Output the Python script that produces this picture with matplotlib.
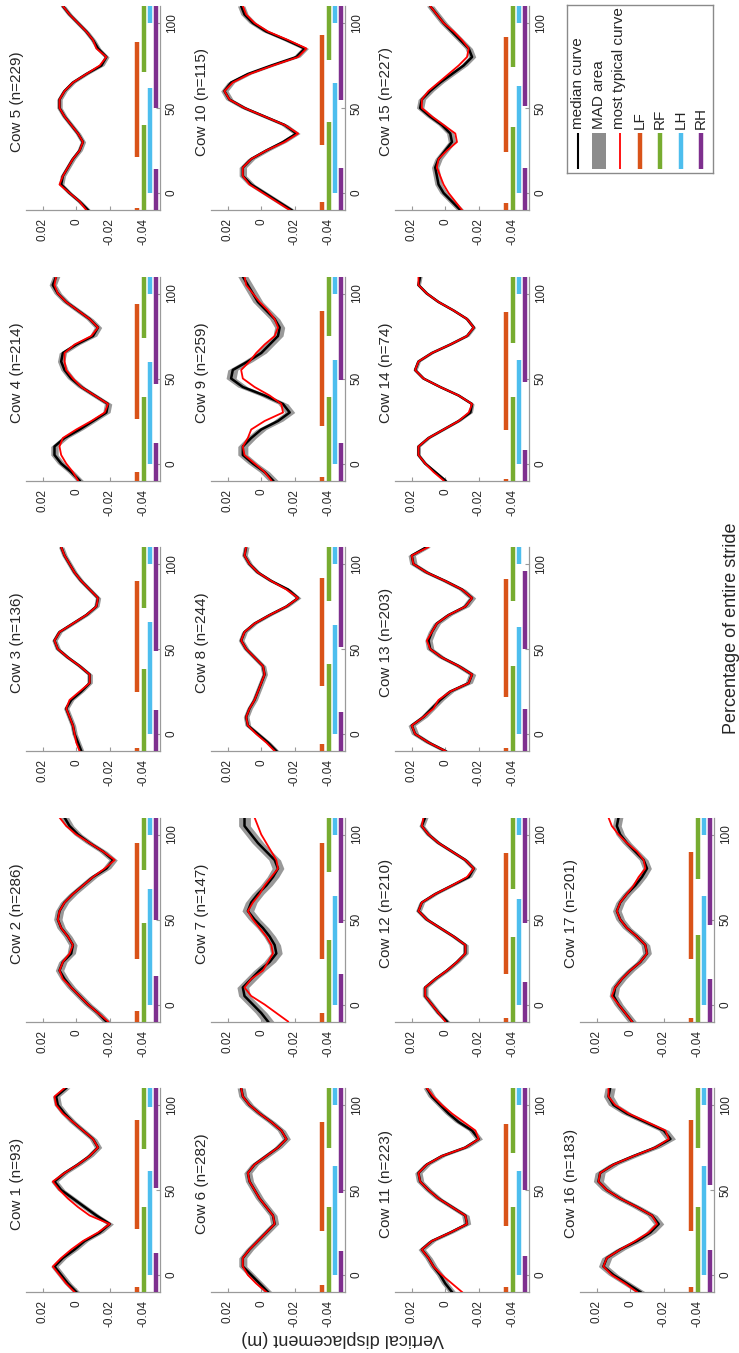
import matplotlib
matplotlib.use("Agg")
import matplotlib.pyplot as plt
from matplotlib.patches import Rectangle

plt.rcParams['font.family'] = ['Liberation Sans', 'DejaVu Sans']

# ---------------- data ----------------
pct = [-10, -5, 0, 5, 10, 15, 20, 25, 30, 35, 40, 45, 50, 55, 60, 65, 70, 75, 80, 85, 90, 95, 100, 105, 110]

n_strides = [93, 286, 136, 214, 229, 282, 147, 244, 259, 115, 223, 210, 203, 74, 227, 183, 201]

mad_half = [0.0022, 0.0025, 0.0016, 0.0022, 0.0016, 0.0024, 0.0035, 0.0017, 0.0030, 0.0022,
            0.0022, 0.0017, 0.0022, 0.0012, 0.0022, 0.0030, 0.0026]

med_01 = [0.000, 0.005, 0.009, 0.013, 0.008, 0.001, -0.005, -0.014, -0.020, -0.012, -0.005, 0.002, 0.009, 0.013, 0.007, -0.001, -0.008, -0.013, -0.010, -0.004, 0.002, 0.007, 0.011, 0.012, 0.006]
typ_01 = [0.001, 0.006, 0.010, 0.014, 0.009, 0.003, -0.004, -0.013, -0.020, -0.008, -0.001, 0.005, 0.010, 0.014, 0.007, -0.001, -0.008, -0.013, -0.010, -0.004, 0.002, 0.008, 0.012, 0.013, 0.007]
med_02 = [-0.018, -0.013, -0.007, -0.002, 0.003, 0.007, 0.010, 0.008, 0.003, 0.002, 0.005, 0.009, 0.011, 0.010, 0.007, 0.002, -0.004, -0.010, -0.018, -0.022, -0.016, -0.008, -0.001, 0.004, 0.007]
typ_02 = [-0.019, -0.013, -0.007, -0.002, 0.003, 0.008, 0.010, 0.008, 0.004, 0.002, 0.005, 0.009, 0.011, 0.010, 0.007, 0.002, -0.004, -0.010, -0.017, -0.023, -0.016, -0.008, 0.000, 0.006, 0.010]
med_03 = [-0.003, -0.001, 0.001, 0.002, 0.004, 0.006, 0.003, -0.003, -0.008, -0.008, -0.002, 0.005, 0.011, 0.013, 0.010, 0.002, -0.006, -0.012, -0.013, -0.008, -0.003, 0.001, 0.004, 0.007, 0.009]
typ_03 = [-0.002, 0.000, 0.001, 0.002, 0.004, 0.006, 0.004, -0.002, -0.008, -0.008, -0.002, 0.005, 0.011, 0.013, 0.010, 0.002, -0.006, -0.012, -0.013, -0.008, -0.003, 0.001, 0.004, 0.007, 0.009]
med_04 = [-0.002, 0.003, 0.009, 0.013, 0.013, 0.007, -0.002, -0.010, -0.018, -0.019, -0.011, -0.003, 0.003, 0.007, 0.009, 0.008, 0.000, -0.010, -0.013, -0.008, -0.001, 0.006, 0.011, 0.014, 0.012]
typ_04 = [-0.001, 0.002, 0.006, 0.009, 0.010, 0.008, 0.000, -0.009, -0.017, -0.019, -0.011, -0.003, 0.002, 0.006, 0.007, 0.007, 0.001, -0.009, -0.013, -0.008, -0.001, 0.006, 0.011, 0.013, 0.012]
med_05 = [-0.007, -0.002, 0.004, 0.009, 0.008, 0.005, 0.002, -0.002, -0.004, -0.001, 0.003, 0.007, 0.010, 0.010, 0.007, 0.002, -0.006, -0.015, -0.018, -0.013, -0.010, -0.006, -0.001, 0.004, 0.008]
typ_05 = [-0.006, -0.002, 0.004, 0.010, 0.008, 0.005, 0.002, -0.002, -0.004, -0.001, 0.003, 0.007, 0.010, 0.010, 0.007, 0.002, -0.006, -0.014, -0.018, -0.012, -0.010, -0.006, -0.001, 0.004, 0.008]
med_06 = [-0.004, 0.001, 0.006, 0.011, 0.011, 0.007, 0.002, -0.003, -0.008, -0.007, -0.003, 0.001, 0.004, 0.007, 0.008, 0.004, -0.003, -0.010, -0.015, -0.012, -0.006, 0.001, 0.007, 0.011, 0.012]
typ_06 = [-0.003, 0.003, 0.008, 0.011, 0.011, 0.007, 0.002, -0.003, -0.008, -0.007, -0.003, 0.001, 0.004, 0.007, 0.008, 0.004, -0.003, -0.010, -0.015, -0.012, -0.006, 0.001, 0.007, 0.011, 0.012]
med_07 = [-0.004, 0.000, 0.005, 0.010, 0.011, 0.006, 0.001, -0.005, -0.009, -0.008, -0.005, -0.001, 0.004, 0.008, 0.006, 0.002, -0.003, -0.007, -0.010, -0.008, -0.003, 0.002, 0.006, 0.010, 0.010]
typ_07 = [-0.016, -0.009, -0.002, 0.006, 0.010, 0.006, -0.001, -0.004, -0.007, -0.006, -0.003, 0.001, 0.005, 0.008, 0.005, 0.001, -0.002, -0.006, -0.010, -0.009, -0.006, -0.003, 0.000, 0.002, 0.004]
med_08 = [-0.009, -0.004, 0.002, 0.008, 0.009, 0.007, 0.004, 0.002, 0.000, -0.002, -0.001, 0.004, 0.009, 0.012, 0.010, 0.004, -0.005, -0.015, -0.022, -0.016, -0.006, 0.002, 0.007, 0.010, 0.009]
typ_08 = [-0.008, -0.003, 0.003, 0.008, 0.009, 0.007, 0.004, 0.002, 0.000, -0.002, -0.001, 0.004, 0.009, 0.012, 0.010, 0.004, -0.005, -0.015, -0.022, -0.015, -0.006, 0.002, 0.007, 0.010, 0.009]
med_09 = [-0.007, -0.002, 0.005, 0.011, 0.011, 0.006, 0.000, -0.010, -0.017, -0.013, -0.002, 0.011, 0.018, 0.017, 0.008, 0.000, -0.005, -0.010, -0.011, -0.008, -0.003, 0.002, 0.005, 0.008, 0.011]
typ_09 = [-0.006, -0.002, 0.004, 0.010, 0.011, 0.008, 0.006, -0.002, -0.013, -0.012, -0.005, 0.004, 0.011, 0.012, 0.007, 0.003, -0.002, -0.008, -0.010, -0.008, -0.004, 0.001, 0.005, 0.009, 0.010]
med_10 = [-0.018, -0.010, -0.002, 0.006, 0.011, 0.011, 0.006, -0.003, -0.013, -0.021, -0.014, -0.002, 0.010, 0.019, 0.022, 0.018, 0.008, -0.006, -0.021, -0.026, -0.015, -0.003, 0.005, 0.010, 0.012]
typ_10 = [-0.017, -0.009, -0.001, 0.007, 0.011, 0.011, 0.006, -0.003, -0.014, -0.022, -0.014, -0.002, 0.010, 0.019, 0.022, 0.017, 0.007, -0.007, -0.022, -0.027, -0.016, -0.004, 0.004, 0.009, 0.011]
med_11 = [-0.004, 0.000, 0.003, 0.007, 0.010, 0.014, 0.008, -0.003, -0.013, -0.012, -0.004, 0.004, 0.010, 0.015, 0.016, 0.011, 0.002, -0.012, -0.020, -0.016, -0.008, -0.002, 0.003, 0.008, 0.011]
typ_11 = [-0.010, -0.004, 0.002, 0.007, 0.010, 0.014, 0.008, -0.003, -0.013, -0.012, -0.004, 0.004, 0.010, 0.015, 0.016, 0.011, 0.002, -0.012, -0.020, -0.018, -0.011, -0.004, 0.002, 0.007, 0.011]
med_12 = [-0.001, 0.004, 0.008, 0.012, 0.012, 0.006, -0.001, -0.007, -0.012, -0.012, -0.005, 0.003, 0.011, 0.016, 0.014, 0.006, -0.004, -0.014, -0.017, -0.012, -0.004, 0.004, 0.010, 0.014, 0.012]
typ_12 = [0.000, 0.004, 0.008, 0.012, 0.012, 0.006, -0.001, -0.007, -0.012, -0.012, -0.005, 0.003, 0.011, 0.016, 0.014, 0.006, -0.004, -0.013, -0.017, -0.012, -0.004, 0.004, 0.010, 0.014, 0.013]
med_13 = [0.000, 0.010, 0.018, 0.020, 0.013, 0.008, 0.003, -0.003, -0.014, -0.016, -0.008, 0.002, 0.009, 0.010, 0.008, 0.005, -0.002, -0.012, -0.016, -0.010, 0.000, 0.011, 0.019, 0.020, 0.011]
typ_13 = [0.000, 0.010, 0.018, 0.020, 0.013, 0.007, 0.004, -0.003, -0.014, -0.016, -0.008, 0.002, 0.009, 0.011, 0.008, 0.005, -0.002, -0.012, -0.016, -0.010, 0.000, 0.011, 0.019, 0.020, 0.010]
med_14 = [0.000, 0.006, 0.012, 0.016, 0.016, 0.010, 0.001, -0.008, -0.015, -0.016, -0.008, 0.003, 0.013, 0.018, 0.016, 0.008, -0.003, -0.013, -0.017, -0.013, -0.005, 0.004, 0.011, 0.016, 0.015]
typ_14 = [0.001, 0.007, 0.012, 0.016, 0.016, 0.010, 0.001, -0.008, -0.014, -0.016, -0.008, 0.003, 0.013, 0.018, 0.016, 0.008, -0.003, -0.013, -0.017, -0.013, -0.005, 0.004, 0.011, 0.016, 0.016]
med_15 = [-0.009, -0.004, 0.001, 0.004, 0.005, 0.006, 0.004, 0.000, -0.004, -0.003, 0.002, 0.009, 0.015, 0.014, 0.009, 0.003, -0.004, -0.011, -0.016, -0.014, -0.009, -0.004, 0.001, 0.005, 0.009]
typ_15 = [-0.010, -0.006, -0.002, 0.001, 0.003, 0.005, 0.004, -0.001, -0.007, -0.006, 0.001, 0.008, 0.014, 0.014, 0.010, 0.004, -0.002, -0.008, -0.013, -0.014, -0.010, -0.005, 0.001, 0.005, 0.009]
med_16 = [-0.006, 0.002, 0.010, 0.016, 0.014, 0.006, -0.004, -0.012, -0.017, -0.013, -0.004, 0.006, 0.014, 0.019, 0.018, 0.010, -0.002, -0.015, -0.024, -0.020, -0.009, 0.002, 0.010, 0.013, 0.012]
typ_16 = [-0.004, 0.003, 0.011, 0.016, 0.014, 0.006, -0.003, -0.011, -0.016, -0.013, -0.004, 0.006, 0.014, 0.019, 0.018, 0.010, -0.002, -0.015, -0.023, -0.021, -0.010, 0.001, 0.009, 0.013, 0.013]
med_17 = [-0.001, 0.003, 0.007, 0.010, 0.009, 0.005, 0.000, -0.006, -0.010, -0.009, -0.004, 0.002, 0.006, 0.008, 0.006, 0.002, -0.003, -0.007, -0.010, -0.008, -0.003, 0.002, 0.006, 0.008, 0.007]
typ_17 = [-0.001, 0.003, 0.007, 0.011, 0.009, 0.005, 0.000, -0.006, -0.010, -0.009, -0.004, 0.002, 0.006, 0.008, 0.006, 0.002, -0.002, -0.005, -0.009, -0.008, -0.004, 0.002, 0.007, 0.011, 0.013]

median_curves = [med_01, med_02, med_03, med_04, med_05, med_06, med_07, med_08, med_09, med_10,
                 med_11, med_12, med_13, med_14, med_15, med_16, med_17]
typical_curves = [typ_01, typ_02, typ_03, typ_04, typ_05, typ_06, typ_07, typ_08, typ_09, typ_10,
                  typ_11, typ_12, typ_13, typ_14, typ_15, typ_16, typ_17]

# stance phases (% of stride) for each limb, per cow
LF_bars = [[(-10, -7), (27, 91)], [(-10, -4), (27, 95)], [(-10, -8), (25, 90)], [(-10, -5), (26, 94)],
           [(-10, -9), (21, 89)], [(-10, -6), (26, 90)], [(-10, -5), (27, 95)], [(-10, -6), (28, 92)],
           [(-10, -8), (22, 90)], [(-10, -5), (28, 93)], [(-10, -7), (29, 89)], [(-10, -8), (18, 89)],
           [(-10, -8), (22, 91)], [(-10, -9.4), (20, 89)], [(-10, -6), (24, 92)], [(-10, -7), (26, 91)],
           [(-10, -8), (27, 90)]]
RF_bars = [[(-10, 40), (74, 110)], [(-10, 48), (79, 110)], [(-10, 38), (74, 110)], [(-10, 39), (74, 110)],
           [(-10, 40), (71, 110)], [(-10, 40), (75, 110)], [(-10, 38), (78, 110)], [(-10, 41), (78, 110)],
           [(-10, 39), (75, 110)], [(-10, 42), (78, 110)], [(-10, 40), (72, 110)], [(-10, 40), (68, 110)],
           [(-10, 40), (78, 110)], [(-10, 39), (71, 110)], [(-10, 39), (74, 110)], [(-10, 40), (75, 110)],
           [(-10, 41), (74, 110)]]
LH_bars = [[(0, 61), (99, 110)], [(0, 68), (100, 110)], [(0, 66), (100, 110)], [(0, 60), (100, 110)],
           [(0, 62), (100, 110)], [(0, 64), (100, 110)], [(0, 64), (100, 110)], [(0, 64), (100, 110)],
           [(0, 61), (100, 110)], [(0, 65), (100, 110)], [(0, 61), (100, 110)], [(0, 62), (100, 110)],
           [(0, 63), (100, 110)], [(0, 61), (100, 110)], [(0, 63), (100, 110)], [(0, 64), (100, 110)],
           [(0, 64), (100, 110)]]
RH_bars = [[(-10, 13), (51, 110)], [(-10, 17), (50, 110)], [(-10, 14), (49, 110)], [(-10, 12), (47, 110)],
           [(-10, 14), (50, 110)], [(-10, 14), (48, 110)], [(-10, 18), (48, 110)], [(-10, 13), (51, 110)],
           [(-10, 12), (49, 110)], [(-10, 15), (55, 110)], [(-10, 11), (50, 110)], [(-10, 13), (48, 110)],
           [(-10, 15), (50, 96)], [(-10, 8), (48, 110)], [(-10, 15), (51, 110)], [(-10, 15), (53, 110)],
           [(-10, 15), (47, 110)]]

limb_names = ['LF', 'RF', 'LH', 'RH']
limb_colors = ['#D95319', '#77AC30', '#4DBEEE', '#7E2F8E']
limb_levels = [-0.0364, -0.0405, -0.0443, -0.0479]
limb_bars = [LF_bars, RF_bars, LH_bars, RH_bars]

value_ticks = [0.02, 0, -0.02, -0.04]
value_ticklabels = ['0.02', '0', '-0.02', '-0.04']
pct_ticks = [0, 50, 100]
pct_ticklabels = ['0', '50', '100']

# ---------------- layout (figure is the landscape chart turned 90 deg CCW) ----------------
W, H = 739, 1353
fig = plt.figure(figsize=(W / 100, H / 100), dpi=100)
fig.patch.set_facecolor('white')

col_left_px = [26, 211, 395, 580]
ax_w_px, ax_h_px = 134, 204
spine_col = '#9a9a9a'
text_col = '#262626'

for i in range(17):
    r, c = divmod(i, 5)
    bottom_px = 210 + (4 - c) * 270.5
    ax = fig.add_axes([col_left_px[r] / W, (H - bottom_px) / H, ax_w_px / W, ax_h_px / H])
    med = median_curves[i]
    typ = typical_curves[i]
    lo = [m - mad_half[i] for m in med]
    hi = [m + mad_half[i] for m in med]
    ax.fill_betweenx(pct, lo, hi, color='#999999', lw=0, zorder=1)
    ax.plot(med, pct, color='black', lw=1.8, zorder=3, solid_joinstyle='round')
    ax.plot(typ, pct, color='#FF0000', lw=1.3, zorder=4, solid_joinstyle='round')
    for lvl, col, bars in zip(limb_levels, limb_colors, limb_bars):
        for (a, b) in bars[i]:
            ax.plot([lvl, lvl], [a, b], color=col, lw=3.2, solid_capstyle='butt', zorder=5)
    ax.set_xlim(0.03, -0.05)
    ax.set_ylim(-10, 110)
    for s in ['top', 'left']:
        ax.spines[s].set_visible(False)
    for s in ['bottom', 'right']:
        ax.spines[s].set_color(spine_col)
        ax.spines[s].set_linewidth(0.9)
    ax.yaxis.tick_right()
    ax.set_xticks(value_ticks)
    ax.set_xticklabels(value_ticklabels, rotation=90, fontsize=8.5, color=text_col)
    ax.set_yticks(pct_ticks)
    ax.set_yticklabels(pct_ticklabels, rotation=90, fontsize=8.5, color=text_col, va='center')
    ax.tick_params(axis='both', direction='in', length=3, width=0.8, color=spine_col)
    ax.tick_params(axis='x', pad=6)
    ax.tick_params(axis='y', pad=4)
    ax.patch.set_alpha(0)
    ax.text(-0.067, 0.53, f'Cow {i + 1} (n={n_strides[i]})', transform=ax.transAxes,
            rotation=90, ha='center', va='center', fontsize=11, color=text_col)

# ---------------- legend (drawn turned like the rest) ----------------
lx0, lx1, ly0, ly1 = 567, 713, 5, 173
lax = fig.add_axes([lx0 / W, (H - ly1) / H, (lx1 - lx0) / W, (ly1 - ly0) / H])
lax.set_xlim(lx0, lx1)
lax.set_ylim(ly1, ly0)
lax.set_xticks([])
lax.set_yticks([])
for s in lax.spines.values():
    s.set_color('#8a8a8a')
    s.set_linewidth(1.0)

legend_labels = ['median curve', 'MAD area', 'most typical curve'] + limb_names
legend_x = [578.5, 599, 619.5, 640, 660, 680.5, 701]
m_top, m_bot = 133, 169
lax.plot([legend_x[0], legend_x[0]], [m_top, m_bot], color='black', lw=1.5, solid_capstyle='butt')
lax.add_patch(Rectangle((legend_x[1] - 7, m_top), 14, m_bot - m_top, facecolor='#8c8c8c', edgecolor='none'))
lax.plot([legend_x[2], legend_x[2]], [m_top, m_bot], color='#FF0000', lw=1.3, solid_capstyle='butt')
for k, col in enumerate(limb_colors):
    xk = legend_x[3 + k]
    lax.plot([xk, xk], [m_top, m_bot], color=col, lw=3.2, solid_capstyle='butt')
for xk, lab in zip(legend_x, legend_labels):
    lax.text(xk, 129, lab, rotation=90, ha='center', va='bottom', fontsize=11, color=text_col)

# ---------------- axis labels ----------------
fig.text(731 / W, (H - 628) / H, 'Percentage of entire stride', rotation=90,
         ha='center', va='center', fontsize=13, color=text_col)
fig.text(343 / W, (H - 1338) / H, 'Vertical displacement (m)', rotation=180,
         ha='center', va='center', fontsize=13, color=text_col)

fig.savefig('out.png', dpi=100, facecolor='white')
